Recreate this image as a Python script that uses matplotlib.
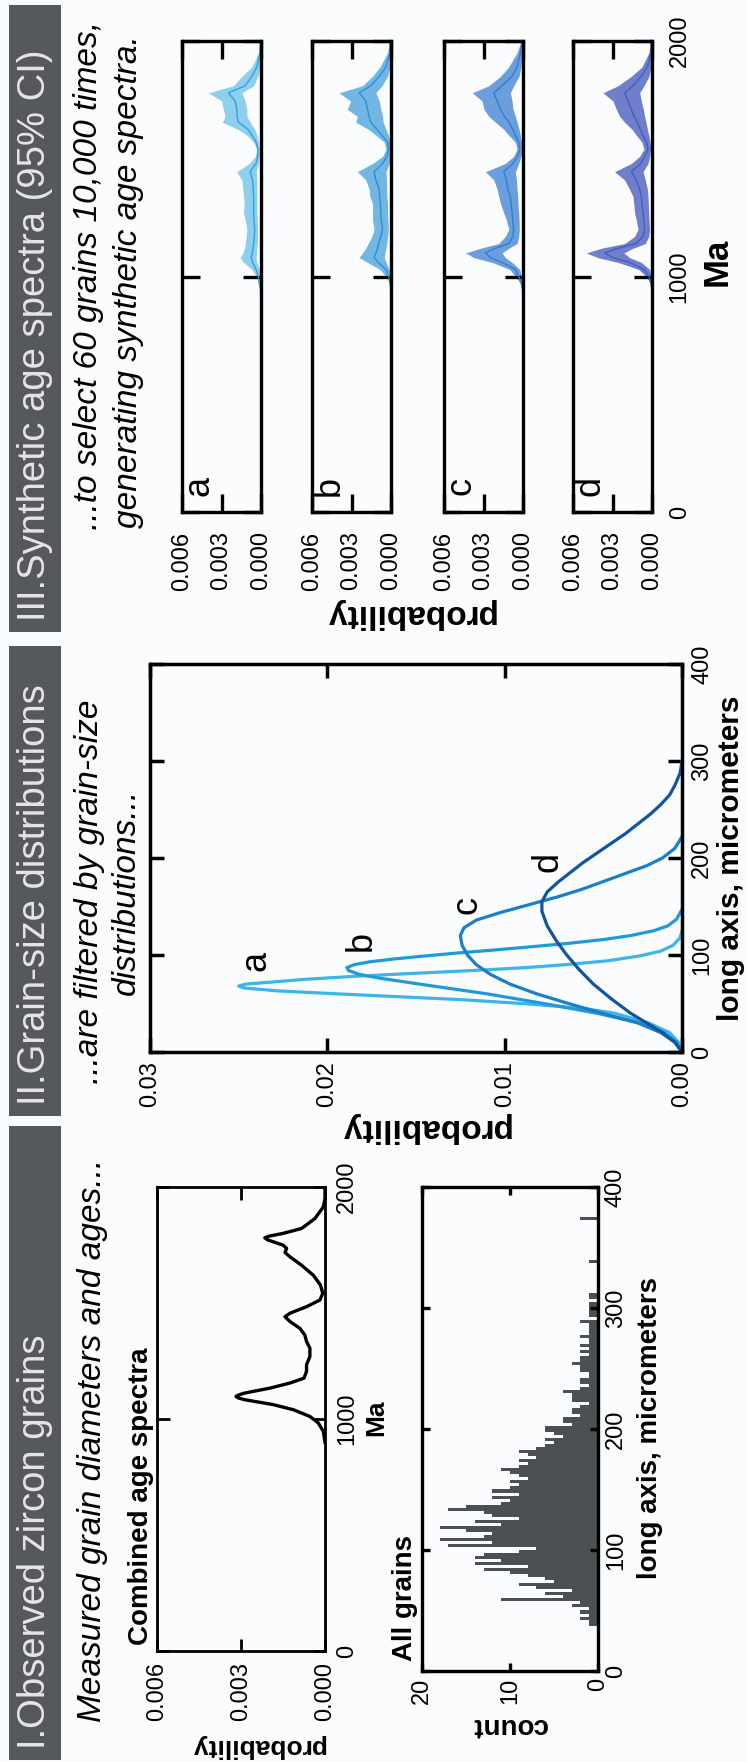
import matplotlib

matplotlib.use("Agg")
import matplotlib.pyplot as plt
from matplotlib.patches import Rectangle

plt.rcParams["font.family"] = ["Liberation Sans", "DejaVu Sans"]

W, H = 747, 1762
BG = "#fbfcfe"
BAR = "#56595c"
BAR_TEXT = "#e4e5e6"
HIST = "#4b5053"

# Panel I: combined age spectrum of all grains (Ma, probability)
COMBINED_MA = [900, 947, 983, 1011, 1040, 1062, 1083, 1090, 1097, 1104, 1112, 1133, 1155, 1176,
               1205, 1234, 1269, 1305, 1334, 1362, 1391, 1420, 1441, 1456, 1484, 1513, 1542,
               1577, 1620, 1663, 1699, 1718, 1735, 1749, 1764, 1772, 1781, 1788, 1800, 1821,
               1864, 1914, 1950, 2000]
COMBINED_P = [0.0, 0.00006, 0.00024, 0.00054, 0.00113, 0.00185, 0.00286, 0.00308, 0.00318, 0.00308,
              0.00286, 0.00197, 0.00125, 0.00075, 0.00066, 0.00066, 0.00054, 0.00054, 0.00066,
              0.00072, 0.0009, 0.00125, 0.00143, 0.00125, 0.00066, 0.00018, 0.00008, 0.00016,
              0.00042, 0.00084, 0.00125, 0.00143, 0.00137, 0.00149, 0.00185, 0.00205, 0.00215,
              0.00200, 0.0015, 0.00084, 0.00036, 0.00006, 0.0, 0.0]

# Panel I: grain long-axis histogram, 2.5 micrometre bins from 35 micrometres
HIST_START = 35.0
HIST_BIN = 2.5
HIST_COUNTS = [
    0, 1, 1, 2, 1, 2, 1, 3, 2, 11,        # 35 - 57.5
    4, 6, 3, 7, 9, 5, 6, 8, 10, 13,       # 60 - 82.5
    8, 14, 11, 14, 13, 9, 7, 17, 12, 18,  # 85 - 107.5
    13, 12, 15, 18, 11, 14, 9, 12, 13, 17,  # 110 - 132.5
    15, 11, 10, 12, 9, 12, 10, 9, 10, 8,  # 135 - 157.5
    9, 10, 11, 9, 8, 9, 7, 8, 9, 7,       # 160 - 182.5
    6, 5, 6, 4, 5, 6, 6, 3, 4, 4,         # 185 - 207.5
    2, 3, 3, 2, 1, 3, 3, 3, 4, 2,         # 210 - 232.5
    1, 2, 2, 1, 1, 2, 2, 3, 2, 2,         # 235 - 257.5
    1, 2, 1, 2, 1, 1, 2, 1, 1, 1,         # 260 - 282.5
    1, 2, 0, 1, 1, 1, 1, 1, 0, 1,         # 285 - 307.5
    1, 0, 0, 0, 0, 0, 0, 0, 0, 0,         # 310 - 332.5
    0, 1, 0, 0, 0, 0, 0, 0, 0, 0,         # 335 - 357.5
    0, 0, 0, 0, 0, 2, 0, 0,               # 360 - 377.5
]

# Panel II: grain-size distributions (long axis in micrometres, probability)
GS_A_UM = [0, 10, 20, 30, 40, 45, 50, 54, 57, 60, 63, 66, 68, 70, 72, 75, 78, 81, 84, 87, 90,
           94, 99, 104, 110, 118, 125]
GS_A_P = [0, 0.0002, 0.0007, 0.0019, 0.0038, 0.0056, 0.0090, 0.0125, 0.0160, 0.0195, 0.0228,
          0.0247, 0.0250, 0.0246, 0.0232, 0.0212, 0.0185, 0.0152, 0.0118, 0.0088, 0.0066,
          0.0042, 0.0024, 0.0012, 0.0005, 0.0001, 0]
GS_B_UM = [0, 10, 20, 30, 40, 50, 60, 70, 76, 80, 84, 87, 90, 93, 96, 99, 102, 105, 108, 112,
           116, 120, 125, 130, 137, 147]
GS_B_P = [0, 0.0003, 0.0010, 0.0024, 0.0048, 0.0078, 0.0110, 0.0148, 0.0170, 0.0182, 0.0188,
          0.0189, 0.0185, 0.0176, 0.0162, 0.0145, 0.0127, 0.0107, 0.0088, 0.0064, 0.0044,
          0.0029, 0.0016, 0.0008, 0.0003, 0]
GS_C_UM = [0, 10, 20, 30, 40, 50, 60, 70, 80, 90, 100, 110, 120, 128, 136, 144, 152, 160, 168,
           176, 184, 192, 200, 210, 222]
GS_C_P = [0, 0.0004, 0.0012, 0.0025, 0.0045, 0.0064, 0.0082, 0.0097, 0.0108, 0.0116, 0.0121,
          0.0124, 0.0125, 0.0123, 0.0116, 0.0102, 0.0086, 0.0070, 0.0056, 0.0044, 0.0032,
          0.0020, 0.0011, 0.0004, 0]
GS_D_UM = [0, 10, 20, 30, 40, 55, 70, 85, 100, 115, 130, 145, 155, 165, 175, 185, 195, 205, 215,
           225, 235, 245, 255, 265, 275, 288, 300]
GS_D_P = [0, 0.0004, 0.0011, 0.0020, 0.0029, 0.0040, 0.0050, 0.0058, 0.0065, 0.0071, 0.0076,
          0.0079, 0.0079, 0.0076, 0.0070, 0.0063, 0.0056, 0.0048, 0.0040, 0.0032, 0.0025,
          0.0018, 0.0012, 0.0007, 0.0004, 0.0001, 0]
GS_LABEL_POS = {"a": (0.0240, 94), "b": (0.0181, 114), "c": (0.0121, 152), "d": (0.00755, 196)}

# Panel III: synthetic age spectra, lower / median / upper of the 95% CI
SYN_MA = [900, 950, 975, 1000, 1030, 1060, 1080, 1100, 1120, 1140, 1170, 1200, 1240, 1270, 1310,
          1340, 1370, 1410, 1445, 1480, 1510, 1540, 1570, 1600, 1625, 1655, 1680, 1710, 1745,
          1780, 1810, 1850, 1890, 1950, 2000]

SYN_A_HI = [0, 0.0001, 0.00023, 0.00036, 0.00069, 0.00133, 0.00158, 0.00138, 0.00125, 0.0012,
            0.00112, 0.00107, 0.0012, 0.00133, 0.00128, 0.00133, 0.00138, 0.00145, 0.00184,
            0.00089, 0.00043, 0.00031, 0.00056, 0.00107, 0.00176, 0.00293, 0.00273, 0.00286,
            0.00298, 0.004, 0.00209, 0.00145, 0.00069, 0.00018, 0.00005]
SYN_A_MID = [0, 0.00005, 0.00013, 0.0002, 0.00038, 0.00064, 0.00074, 0.00066, 0.00061, 0.00056,
             0.00051, 0.00048, 0.00054, 0.00056, 0.00056, 0.00056, 0.00059, 0.00064, 0.00082,
             0.00038, 0.00026, 0.00023, 0.00036, 0.00069, 0.00099, 0.00171, 0.00181, 0.00184,
             0.00196, 0.00247, 0.0012, 0.00069, 0.00031, 0.00008, 0.00002]
SYN_A_LO = [0, 0, 0.00003, 0.00005, 0.00013, 0.00031, 0.00038, 0.00033, 0.00031, 0.00028,
            0.00026, 0.00026, 0.00028, 0.00031, 0.00031, 0.00031, 0.00031, 0.00031, 0.00036,
            0.00018, 0.00013, 0.00013, 0.00018, 0.00031, 0.00048, 0.00082, 0.00107, 0.00107,
            0.0012, 0.00145, 0.00056, 0.00023, 0.0001, 0.00003, 0]

SYN_B_HI = [0, 0.00008, 0.00013, 0.00038, 0.00084, 0.00179, 0.00242, 0.00217, 0.00191, 0.00173,
            0.00145, 0.00128, 0.0014, 0.0014, 0.0014, 0.00161, 0.00166, 0.00191, 0.00255,
            0.0014, 0.00064, 0.00038, 0.00051, 0.00115, 0.00171, 0.00268, 0.00255, 0.00332,
            0.00306, 0.00395, 0.00217, 0.0014, 0.00084, 0.00026, 0.0001]
SYN_B_MID = [0, 0.00003, 0.00008, 0.00018, 0.00038, 0.00097, 0.00128, 0.00115, 0.00102, 0.00094,
             0.00077, 0.00064, 0.00074, 0.00077, 0.0008, 0.00087, 0.00089, 0.00115, 0.00128,
             0.00064, 0.00031, 0.0002, 0.00026, 0.00069, 0.00107, 0.00153, 0.00166, 0.00179,
             0.00191, 0.00242, 0.00153, 0.00089, 0.00038, 0.0001, 0.00005]
SYN_B_LO = [0, 0, 0.00003, 0.00005, 0.00013, 0.00038, 0.00051, 0.00046, 0.00038, 0.00031,
            0.00026, 0.0002, 0.00023, 0.00026, 0.00026, 0.00031, 0.00033, 0.00033, 0.00038,
            0.00013, 0.00008, 0.00005, 0.00008, 0.0002, 0.00038, 0.00059, 0.00064, 0.00077,
            0.00089, 0.00115, 0.00069, 0.00026, 0.0001, 0.00003, 0]

SYN_C_HI = [0, 0.0001, 0.00025, 0.00058, 0.001, 0.00234, 0.00373, 0.00436, 0.00322, 0.00184,
            0.00134, 0.00108, 0.00126, 0.00146, 0.00171, 0.00184, 0.00196, 0.00222, 0.00285,
            0.00134, 0.00071, 0.00045, 0.00058, 0.00108, 0.00146, 0.00209, 0.00259, 0.00297,
            0.0031, 0.00385, 0.00259, 0.00171, 0.00108, 0.00045, 0.00015]
SYN_C_MID = [0, 0.00005, 0.00013, 0.00033, 0.00058, 0.00159, 0.00247, 0.00285, 0.00209, 0.00108,
             0.00076, 0.00071, 0.00078, 0.00083, 0.00091, 0.00096, 0.00116, 0.00126, 0.00146,
             0.00076, 0.0004, 0.00023, 0.00033, 0.00058, 0.00078, 0.00108, 0.00141, 0.00171,
             0.00196, 0.00222, 0.00159, 0.00083, 0.00045, 0.0002, 0.00005]
SYN_C_LO = [0, 0, 0.00003, 0.00013, 0.00025, 0.00083, 0.00134, 0.00159, 0.00108, 0.00045,
            0.00033, 0.00028, 0.0003, 0.00033, 0.00038, 0.0004, 0.00045, 0.0005, 0.00058,
            0.00033, 0.00015, 0.00008, 0.0001, 0.0002, 0.0003, 0.00045, 0.00058, 0.00076,
            0.00083, 0.00096, 0.00071, 0.0003, 0.00015, 0.00005, 0]

SYN_D_HI = [0, 0.00008, 0.00018, 0.00043, 0.00101, 0.00258, 0.0041, 0.00499, 0.00385, 0.00208,
            0.00132, 0.00106, 0.00119, 0.00132, 0.00139, 0.00144, 0.0017, 0.00208, 0.00284,
            0.00157, 0.00094, 0.00061, 0.00076, 0.00119, 0.00152, 0.00208, 0.00246, 0.00271,
            0.00296, 0.00372, 0.00258, 0.00157, 0.00076, 0.00023, 0.0001]
SYN_D_MID = [0, 0.00003, 0.00008, 0.00023, 0.00061, 0.0017, 0.00296, 0.0036, 0.00258, 0.00119,
             0.00068, 0.00056, 0.00063, 0.00068, 0.00076, 0.00081, 0.00094, 0.00119, 0.00157,
             0.00086, 0.00056, 0.0003, 0.00041, 0.00068, 0.00089, 0.00111, 0.00137, 0.00157,
             0.00182, 0.00208, 0.00144, 0.00081, 0.00035, 0.0001, 0.00003]
SYN_D_LO = [0, 0, 0.00003, 0.00005, 0.00018, 0.00081, 0.0017, 0.00213, 0.00144, 0.00051,
            0.00025, 0.00018, 0.00023, 0.00025, 0.00028, 0.0003, 0.00035, 0.00051, 0.00068,
            0.0003, 0.00018, 0.0001, 0.00015, 0.00025, 0.00035, 0.00046, 0.00056, 0.00066,
            0.00081, 0.00094, 0.00061, 0.00023, 0.00008, 0.00003, 0]


def add_box(fig, x0, y0, x1, y1):
    # pixel box measured from the top-left corner of the page
    return fig.add_axes([x0 / W, 1 - y1 / H, (x1 - x0) / W, (y1 - y0) / H])


def page_text(fig, x, y, s, **kw):
    kw.setdefault("rotation_mode", "anchor")
    return fig.text(x / W, 1 - y / H, s, **kw)


def style_box(ax, spine, tick_len, pad_x, pad_y, right_labels=True, size=17):
    ax.set_facecolor("none")
    for sp in ax.spines.values():
        sp.set_linewidth(spine)
    ax.tick_params(direction="in", length=tick_len, width=spine, top=True, bottom=True,
                   left=True, right=True, labelsize=size, labelleft=False, labeltop=False,
                   labelbottom=True, labelright=right_labels)
    ax.tick_params(axis="x", pad=pad_x, labelrotation=90)
    ax.tick_params(axis="y", pad=pad_y, labelrotation=90)
    for t in ax.get_yticklabels():
        t.set_verticalalignment("center")


def header(fig, y0, y1, title):
    fig.add_artist(Rectangle((8.6 / W, 1 - y1 / H), (61 - 8.6) / W, (y1 - y0) / H,
                             transform=fig.transFigure, facecolor=BAR, edgecolor="none"))
    page_text(fig, 35, y1 - 11, title, rotation=90, ha="left", va="center",
              fontsize=27.5, color=BAR_TEXT)


fig = plt.figure(figsize=(W / 100, H / 100), dpi=100)
fig.patch.set_facecolor(BG)

# ---------- III. synthetic age spectra ----------
header(fig, 5, 632, "III.Synthetic age spectra (95% CI)")
page_text(fig, 88, 530, "...to select 60 grains 10,000 times,", rotation=90, ha="left",
          va="center", fontsize=24, style="italic")
page_text(fig, 129, 528, "generating synthetic age spectra.", rotation=90, ha="left",
          va="center", fontsize=24, style="italic")

syn_panels = [
    ("a", 182, SYN_A_LO, SYN_A_MID, SYN_A_HI, "#8fcfee", "#2ca3dd"),
    ("b", 312, SYN_B_LO, SYN_B_MID, SYN_B_HI, "#72b6e4", "#2b8fd5"),
    ("c", 444, SYN_C_LO, SYN_C_MID, SYN_C_HI, "#6b9edc", "#2f7fcf"),
    ("d", 573, SYN_D_LO, SYN_D_MID, SYN_D_HI, "#707ecb", "#3b62bd"),
]
for letter, x0, lo, mid, hi, fill, line in syn_panels:
    ax = add_box(fig, x0, 41, x0 + 79, 512)
    ax.fill_betweenx(SYN_MA, lo, hi, color=fill, linewidth=0)
    ax.plot(mid, SYN_MA, color=line, linewidth=1.0)
    ax.set_xlim(0.006, 0)
    ax.set_ylim(0, 2000)
    ax.set_xticks([0.006, 0.003, 0.0], ["0.006", "0.003", "0.000"])
    ax.yaxis.tick_right()
    ax.set_yticks([0, 1000, 2000], ["0", "1000", "2000"])
    style_box(ax, 2.4, 13, 14, 12, right_labels=(letter == "d"))
    ax.text(0.22, 0.055, letter, transform=ax.transAxes, rotation=90, ha="center",
            va="center", fontsize=26)

page_text(fig, 409, 613, "probability", rotation=180, ha="center", va="center",
          fontsize=24, fontweight="bold")
page_text(fig, 717, 262, "Ma", rotation=90, ha="center", va="center",
          fontsize=25, fontweight="bold")

# ---------- II. grain-size distributions ----------
header(fig, 646, 1116, "II.Grain-size distributions")
page_text(fig, 90, 892, "...are filtered by grain-size", rotation=90, ha="center",
          va="center", fontsize=24, style="italic")
page_text(fig, 126, 892, "distributions...", rotation=90, ha="center",
          va="center", fontsize=24, style="italic")

ax = add_box(fig, 150, 664, 682, 1052)
gs_curves = [
    (GS_A_UM, GS_A_P, "#3db5e6"),
    (GS_B_UM, GS_B_P, "#1e9ad8"),
    (GS_C_UM, GS_C_P, "#1a7fc8"),
    (GS_D_UM, GS_D_P, "#11559f"),
]
for um, p, col in gs_curves:
    ax.plot(p, um, color=col, linewidth=2.3, solid_capstyle="round")
for letter, (px, py) in GS_LABEL_POS.items():
    ax.text(px, py, letter, rotation=90, ha="center", va="center", fontsize=26)
ax.set_xlim(0.03, 0)
ax.set_ylim(0, 400)
ax.set_xticks([0.03, 0.02, 0.01, 0.0], ["0.03", "0.02", "0.01", "0.00"])
ax.yaxis.tick_right()
ax.set_yticks([0, 100, 200, 300, 400], ["0", "100", "200", "300", "400"])
style_box(ax, 2.5, 10, 6.5, 6.5)

page_text(fig, 424, 1128, "probability", rotation=180, ha="center", va="center",
          fontsize=24, fontweight="bold")
page_text(fig, 731, 858, "long axis, micrometers", rotation=90, ha="center", va="center",
          fontsize=21.5, fontweight="bold")

# ---------- I. observed zircon grains ----------
header(fig, 1126, 1760, "I.Observed zircon grains")
page_text(fig, 93, 1722, "Measured grain diameters and ages...", rotation=90, ha="left",
          va="center", fontsize=24, style="italic")

ax = add_box(fig, 157, 1187, 325, 1651)
ax.plot(COMBINED_P, COMBINED_MA, color="black", linewidth=2.4)
ax.set_xlim(0.006, 0)
ax.set_ylim(0, 2000)
ax.set_xticks([0.006, 0.003, 0.0], ["0.006", "0.003", "0.000"])
ax.yaxis.tick_right()
ax.set_yticks([0, 1000, 2000], ["0", "1000", "2000"])
style_box(ax, 2.0, 9, 8, 8)
page_text(fig, 141.5, 1645, "Combined age spectra", rotation=90, ha="left", va="center",
          fontsize=20, fontweight="bold")
page_text(fig, 258, 1746, "probability", rotation=180, ha="center", va="center",
          fontsize=19, fontweight="bold")
page_text(fig, 376, 1418, "Ma", rotation=90, ha="center", va="center",
          fontsize=19, fontweight="bold")

ax = add_box(fig, 422, 1187, 598, 1671)
centers = [HIST_START + HIST_BIN * (i + 0.5) for i in range(len(HIST_COUNTS))]
ax.barh(centers, HIST_COUNTS, height=HIST_BIN, color=HIST, linewidth=0)
ax.set_xlim(20, 0)
ax.set_ylim(0, 400)
ax.set_xticks([20, 10, 0], ["20", "10", "0"])
ax.yaxis.tick_right()
ax.set_yticks([0, 100, 200, 300, 400], ["0", "100", "200", "300", "400"])
style_box(ax, 2.4, 6, 5, 5)
page_text(fig, 405, 1661, "All grains", rotation=90, ha="left", va="center",
          fontsize=20, fontweight="bold")
page_text(fig, 509, 1725, "count", rotation=180, ha="center", va="center",
          fontsize=20, fontweight="bold")
page_text(fig, 650, 1428, "long axis, micrometers", rotation=90, ha="center", va="center",
          fontsize=20, fontweight="bold")

fig.savefig("out.png", dpi=100, facecolor=BG)
